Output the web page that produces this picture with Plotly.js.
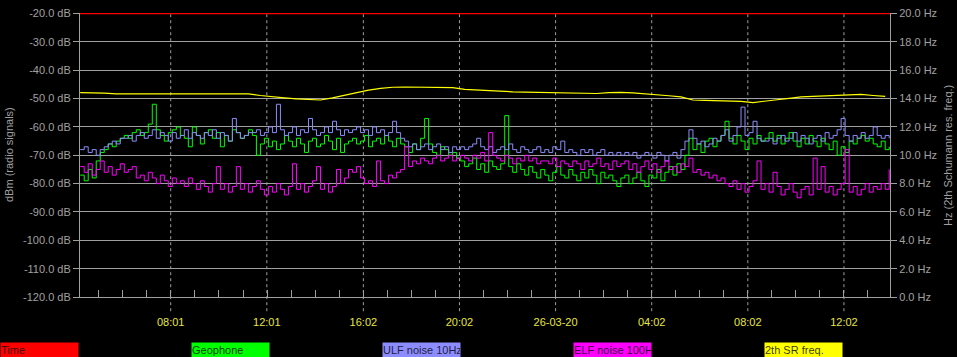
<!DOCTYPE html>
<html>
<head>
<meta charset="utf-8">
<script src="https://cdn.plot.ly/plotly-3.0.1.min.js"></script>
<style>
html,body{margin:0;padding:0;background:#000;}
#chart{width:957px;height:357px;}
</style>
</head>
<body>
<div id="chart"></div>
<script>
// ---- data ----
var seriesStart = '2020-03-25T04:15:00Z';   // first sample of the noisy series
var stepMinutes = 10;                        // sampling interval of the noisy series
var srStepMinutes = 30;                      // sampling interval of the SR frequency

var geophone = [
 -77,-79,-75,-78,-72,-69,-68,-66,-67,-65,-64,
 -63,-64,-62,-61,-63,-62,-59,-52,-61,-63,-65,-62,-61,-60,-63,-64,-67,-60,-63,-66,-62,-61,-64,-62,-67,-63,-65,-61,-62,-64,-63,-61,
 -63,-70,-66,-64,-67,-65,-68,-66,-63,-65,-67,-64,-66,-69,-65,-64,-67,-66,-63,-65,-68,-64,-69,-66,-65,
 -64,-66,-65,-63,-67,-65,-64,-66,-63,-65,-67,-64,-66,
 -67,-69,-66,-68,-64,-57,-66,-69,-70,-67,-68,-70,-69,-71,
 -72,-74,-73,-71,-75,-73,-76,-72,-74,-75,-73,-56,-74,-76,-73,-75,-77,-74,-76,-78,-75,-77,-79,-76,-74,-77,-78,-75,-77,-79,-76,-78,-75,-77,-80,-76,-78,-77,-79,-81,-78,
 -77,-80,-78,-76,-79,-81,-77,-78,-75,-79,-76,-74,-77,-73,-75,
 -70,-64,
 -68,-66,-69,-65,-64,-67,-65,-63,-58,-64,-66,-63,-65,-68,-64,-66,-63,-65,
 -64,-62,-65,-63,-66,-64,-62,-65,-67,-64,-66,-63,-65,-67,-64,-66,-68,-65,-70,-67,-69,-65,-66,-64,-63,-65,-64,-66,-67,-65,-68,-67
];

var ulfNoise = [
 -68,-67,-69,-68,-70,-68,-67,-66,-65,-66,-64,
 -64,-63,-65,-63,-62,-64,-63,-61,-64,-62,-63,-65,-62,-64,-63,-61,-64,-62,-63,-64,-62,-63,-61,-64,-62,-63,-65,-57,-62,-64,-63,-62,
 -62,-61,-63,-62,-60,-62,-52,-61,-63,-62,-60,-63,-61,-62,-57,-61,-63,-62,-60,-62,-58,-61,-63,-61,-62,
 -61,-60,-62,-61,-63,-60,-62,-61,-63,-62,-58,-62,-64,
 -65,-67,-66,-68,-67,-66,-68,-67,-66,-68,-67,-69,-67,-68,
 -67,-68,-67,-66,-64,-67,-68,-67,-69,-68,-67,-68,-66,-68,-69,-67,-68,-69,-68,-67,-69,-68,-69,-67,-68,-65,-69,-68,-69,-70,-68,-69,-68,-70,-69,-68,-70,-69,-70,-69,-70,
 -69,-70,-69,-71,-70,-69,-70,-71,-69,-70,-72,-70,-69,-71,-68,
 -65,-61,
 -64,-66,-65,-67,-66,-64,-65,-63,-61,-65,-63,-60,-53,-63,-62,-58,-64,-65,
 -65,-64,-66,-64,-63,-65,-64,-62,-65,-63,-64,-66,-64,-63,-65,-62,-64,-63,-61,-57,-63,-65,-63,-64,-62,-64,-63,-60,-63,-64,-63,-64
];

var elfNoise = [
 -74,-76,-73,-77,-75,-72,-76,-74,-77,-75,-73,-76,-75,
 -74,-78,-77,-79,-76,-78,-80,-77,-79,-81,-78,-80,-79,-81,-78,-80,-82,-79,
 -81,-83,-80,-74,-82,-80,-83,-81,-74,-82,-80,-83,-81,-79,-82,-84,-81,-83,-80,-82,-84,-81,-73,-82,-80,-83,-81,-79,-74,-82,-80,-83,-81,-75,-80,-78,
 -75,-76,-74,-78,-80,-79,-81,-72,-79,-80,-77,-78,-76,-75,
 -67,-74,-72,-73,-71,-72,-73,-71,-70,-72,-71,-70,-72,-71,
 -70,-71,-72,-70,-71,-69,-72,-62,-70,-71,-72,-70,-71,-73,-71,-72,-70,-72,-71,-73,-72,
 -72,-73,-71,-74,-72,-73,-74,-72,-73,-75,-72,-74,-73,-71,-74,-73,-75,-72,-74,-73,
 -72,-75,-73,-76,-74,-72,-75,-73,-76,-74,-72,-75,-74,-76,-73,
 -74,-71,-76,-75,-77,-76,-78,-77,-79,-78,
 -80,-81,-79,-82,-80,-83,-81,-79,-72,-82,-80,-83,-76,-81,-84,-82,-80,-83,-85,-82,-81,-84,-71,-82,-74,-83,-81,-84,-82,-80,-68,-83,-81,-84,-82,-80,-83,-81,-82,-80,-82,-75
];

var srFreq = [
 14.42,14.42,14.38,14.33,14.33,14.35,14.35,14.33,14.35,14.35,14.33,14.35,14.33,14.35,14.33,
 14.22,14.12,14.05,13.98,13.92,13.90,14.05,14.25,14.42,14.60,14.72,14.80,14.82,14.80,14.82,14.80,14.78,
 14.65,14.60,14.58,14.55,14.48,14.46,14.45,14.42,14.40,14.38,14.38,14.36,14.42,14.44,14.40,14.35,14.28,14.20,14.12,
 13.90,13.88,13.86,13.84,13.80,13.72,13.80,13.92,14.02,14.12,14.15,14.20,14.22,14.28,14.30,14.22,14.15
];

var timeX = ['2020-03-25 04:14:30', '2020-03-26 13:57:00'];
var timeY = [-20, -20];

var xRange = ['2020-03-25 04:14:30', '2020-03-26 13:57:00'];
var xTickVals = ['2020-03-25 08:01', '2020-03-25 12:01', '2020-03-25 16:02', '2020-03-25 20:02',
                 '2020-03-26 00:02', '2020-03-26 04:02', '2020-03-26 08:02', '2020-03-26 12:02'];
var xTickText = ['08:01', '12:01', '16:02', '20:02', '26-03-20', '04:02', '08:02', '12:02'];

var dbTickVals = [-20,-30,-40,-50,-60,-70,-80,-90,-100,-110,-120];
var dbTickText = ['-20.0 dB','-30.0 dB','-40.0 dB','-50.0 dB','-60.0 dB','-70.0 dB','-80.0 dB','-90.0 dB','-100.0 dB','-110.0 dB','-120.0 dB'];
var hzTickVals = [20,18,16,14,12,10,8,6,4,2,0];
var hzTickText = ['20.0 Hz','18.0 Hz','16.0 Hz','14.0 Hz','12.0 Hz','10.0 Hz','8.0 Hz','6.0 Hz','4.0 Hz','2.0 Hz','0.0 Hz'];

var legendNames = ['Time', 'Geophone', 'ULF noise 10Hz', 'ELF noise 100H', '2th SR freq.'];
var legendColors = ['#ff0000', '#00ff00', '#8c8cff', '#ff00ff', '#ffff00'];

// ---- build time axes ----
function timeSeries(startIso, stepMin, n) {
  var t0 = Date.parse(startIso), out = [];
  for (var i = 0; i < n; i++) {
    out.push(new Date(t0 + i * stepMin * 60000).toISOString().slice(0, 19).replace('T', ' '));
  }
  return out;
}
var xNoise = timeSeries(seriesStart, stepMinutes, geophone.length);
var xSr = timeSeries(seriesStart, srStepMinutes, srFreq.length);

var gray = '#a0a0a0';
var traces = [
  {x: xNoise, y: geophone, type: 'scatter', mode: 'lines', line: {color: '#00ff00', width: 1, shape: 'hv'}, name: 'Geophone'},
  {x: xNoise, y: ulfNoise, type: 'scatter', mode: 'lines', line: {color: '#8c8cff', width: 1, shape: 'hv'}, name: 'ULF noise 10Hz'},
  {x: xNoise, y: elfNoise, type: 'scatter', mode: 'lines', line: {color: '#ff00ff', width: 1, shape: 'hv'}, name: 'ELF noise 100H'},
  {x: xSr, y: srFreq, type: 'scatter', mode: 'lines', line: {color: '#ffff00', width: 1.2}, yaxis: 'y2', name: '2th SR freq.'},
  {x: timeX, y: timeY, type: 'scatter', mode: 'lines', line: {color: '#ff0000', width: 1.5}, name: 'Time'}
];

var shapes = xTickVals.map(function (v) {
  return {type: 'line', xref: 'x', yref: 'paper', x0: v, x1: v, y0: -0.05, y1: 1,
          line: {color: gray, width: 1, dash: '3px,3px'}, layer: 'below'};
});

var W = 810, H = 284, L = 80, T = 13;
function px(xp) { return (xp - L) / W; }
function py(yp) { return (T + H - yp) / H; }

var annotations = legendNames.map(function (name, k) {
  return {text: name, xref: 'paper', yref: 'paper', x: px(k * 191), y: py(350),
          xanchor: 'left', yanchor: 'middle', showarrow: false, align: 'left',
          width: 77, height: 14, bgcolor: legendColors[k], borderpad: 0,
          font: {family: 'Liberation Sans, Arial, sans-serif', size: 11, color: 'rgba(0,0,0,0.8)'}};
});
annotations.push({text: 'dBm (radio signals)', xref: 'paper', yref: 'paper', x: px(9), y: 0.5,
  textangle: -90, showarrow: false, xanchor: 'center', yanchor: 'middle',
  font: {family: 'Liberation Sans, Arial, sans-serif', size: 11, color: gray}});
annotations.push({text: 'Hz (2th Schumann res. freq.)', xref: 'paper', yref: 'paper', x: px(948), y: 0.5,
  textangle: -90, showarrow: false, xanchor: 'center', yanchor: 'middle',
  font: {family: 'Liberation Sans, Arial, sans-serif', size: 11, color: gray}});

var layout = {
  width: 957, height: 357,
  margin: {l: 80, r: 67, t: 13, b: 60, pad: 0},
  paper_bgcolor: '#000', plot_bgcolor: '#000',
  showlegend: false,
  font: {family: 'Liberation Sans, Arial, sans-serif', size: 11, color: gray},
  xaxis: {
    type: 'date', range: xRange, showgrid: false, zeroline: false,
    tickmode: 'array', tickvals: xTickVals, ticktext: xTickText,
    ticks: 'outside', ticklen: 15, tickcolor: 'rgba(0,0,0,0)',
    tickfont: {color: '#e6e640', size: 11},
    showline: true, linecolor: gray, linewidth: 1,
    minor: {tick0: '2020-03-25 00:01:30', dtick: 3600000, ticks: 'inside', ticklen: 7, tickcolor: gray, showgrid: false}
  },
  yaxis: {
    range: [-120, -19.8], tickmode: 'array', tickvals: dbTickVals, ticktext: dbTickText,
    showgrid: true, gridcolor: gray, gridwidth: 1, zeroline: false,
    ticks: 'outside', ticklen: 6, tickcolor: gray,
    showline: true, linecolor: gray, linewidth: 1,
    tickfont: {color: gray, size: 11}
  },
  yaxis2: {
    range: [0, 20.04], overlaying: 'y', side: 'right', tickmode: 'array', tickvals: hzTickVals, ticktext: hzTickText,
    showgrid: false, zeroline: false, ticks: 'outside', ticklen: 6, tickcolor: gray,
    showline: true, linecolor: gray, linewidth: 1,
    tickfont: {color: gray, size: 11}
  },
  shapes: shapes,
  annotations: annotations
};

Plotly.newPlot('chart', traces, layout, {displayModeBar: false, staticPlot: true});
</script>
</body>
</html>
